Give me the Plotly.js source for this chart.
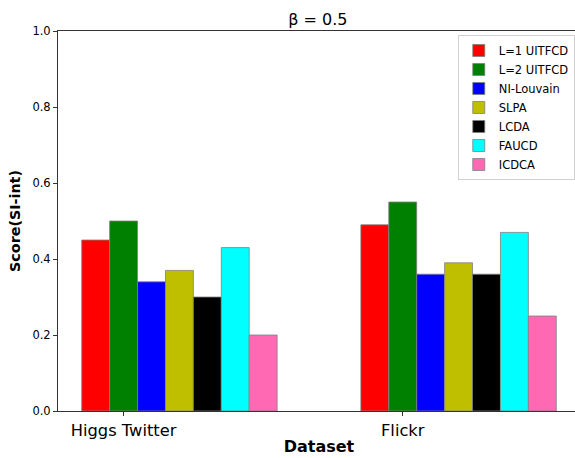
<!DOCTYPE html>
<html>
<head>
<meta charset="utf-8">
<script src="https://cdn.plot.ly/plotly-3.0.1.min.js"></script>
<style>html,body{margin:0;padding:0;overflow:hidden;background:#fff;}</style>
</head>
<body>
<div id="chart" style="width:580px;height:458px;"></div>
<script>
const categories = ["Higgs Twitter", "Flickr"];
const methods = ["L=1 UITFCD", "L=2 UITFCD", "NI-Louvain", "SLPA", "LCDA", "FAUCD", "ICDCA"];
const colors = ["#ff0000", "#008000", "#0000ff", "#bfbf00", "#000000", "#00ffff", "#ff69b4"];
const scoreL1 = [0.45, 0.49];
const scoreL2 = [0.50, 0.55];
const scoreNI = [0.34, 0.36];
const scoreSLPA = [0.37, 0.39];
const scoreLCDA = [0.30, 0.36];
const scoreFAUCD = [0.43, 0.47];
const scoreICDCA = [0.20, 0.25];
const series = [scoreL1, scoreL2, scoreNI, scoreSLPA, scoreLCDA, scoreFAUCD, scoreICDCA];
const yTicks = [0, 0.2, 0.4, 0.6, 0.8, 1.0];
const yTickText = ['0.0', '0.2', '0.4', '0.6', '0.8', '1.0'];
const barWidth = 0.1;

const traces = series.map((vals, j) => ({
  type: 'bar',
  name: methods[j],
  x: categories.map((c, i) => i + (j - 1) * barWidth),
  y: vals,
  width: barWidth,
  marker: {color: colors[j], line: {color: '#808080', width: 0.8}},
  hoverinfo: 'y+name'
}));

const layout = {
  width: 580, height: 458,
  margin: {l: 58, r: 0, t: 31, b: 46.5},
  paper_bgcolor: '#fff', plot_bgcolor: '#fff',
  font: {family: 'DejaVu Sans', color: '#000'},
  title: {text: 'β = 0.5', x: 0.548, xanchor: 'center', y: 0.9585, yanchor: 'middle', font: {size: 16, family: 'DejaVu Sans'}},
  barmode: 'overlay',
  showlegend: true,
  legend: {x: 0.99, xanchor: 'right', y: 0.9895, yanchor: 'top',
    bordercolor: '#d0d0d0', borderwidth: 1, bgcolor: 'rgba(255,255,255,0.8)',
    font: {size: 11.5, family: 'DejaVu Sans'}, tracegroupgap: 0, itemwidth: 30},
  xaxis: {
    range: [-0.235, 1.635],
    tickmode: 'array', tickvals: categories.map((c, i) => i), ticktext: categories,
    ticks: 'outside', ticklen: 4, tickcolor: '#333',
    showline: true, linecolor: '#333', linewidth: 1, mirror: true,
    showgrid: false, zeroline: false,
    tickfont: {size: 16.3, family: 'DejaVu Sans'},
    title: {text: '<b>Dataset</b>', font: {size: 16, family: 'DejaVu Sans'}, standoff: 2}
  },
  yaxis: {
    range: [0, 1.0],
    tickmode: 'array', tickvals: yTicks, ticktext: yTickText,
    ticks: 'outside', ticklen: 4, tickcolor: '#333',
    showline: true, linecolor: '#333', linewidth: 1, mirror: true,
    showgrid: false, zeroline: false,
    tickfont: {size: 11.5, family: 'DejaVu Sans'},
    title: {text: '<b>Score(SI-int)</b>', font: {size: 14.3, family: 'DejaVu Sans'}, standoff: 8}
  }
};

Plotly.newPlot('chart', traces, layout, {displayModeBar: false, staticPlot: true});
</script>
</body>
</html>
